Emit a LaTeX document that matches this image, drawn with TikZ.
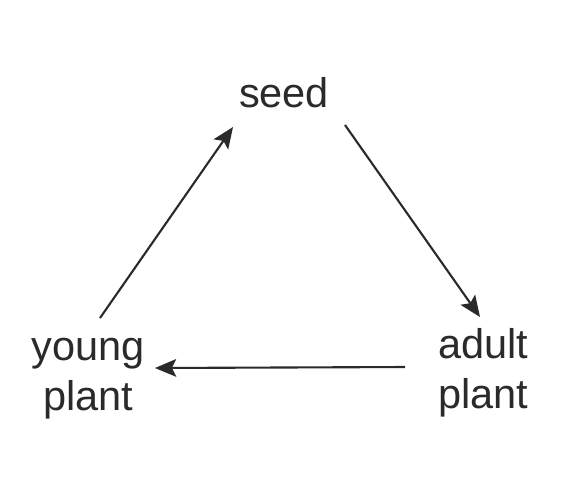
\documentclass[tikz,border=0pt]{standalone}
\usepackage{fontspec}
\setmainfont{Liberation Sans}
\usetikzlibrary{arrows.meta}
\definecolor{ink}{HTML}{2A2A2A}
\tikzset{
  lbl/.style={text=ink, inner sep=0pt, align=center, font=\fontsize{11.8}{14.2}\selectfont, anchor=base},
  conn/.style={draw=ink, line width=0.6pt, -{Stealth[length=6pt,width=5pt,inset=1.2pt]}}
}
\begin{document}
\begin{tikzpicture}[x=0.01cm,y=-0.01cm]
\useasboundingbox (0,0) rectangle (568,500);
\fill[white] (0,0) rectangle (568,500);
\node[lbl] (seed) at (284,107) {seed};
\node[lbl] (young) at (88,410) {young\\plant};
\node[lbl] (adult) at (483,408) {adult\\plant};
\coordinate (ys) at (100,318);
\coordinate (se) at (233,127);
\coordinate (ss) at (345,125);
\coordinate (ae) at (480,317);
\coordinate (as) at (405,367);
\coordinate (ye) at (155,368);
\draw[conn] (ys) -- (se);
\draw[conn] (ss) -- (ae);
\draw[conn] (as) -- (ye);
\end{tikzpicture}
\end{document}
